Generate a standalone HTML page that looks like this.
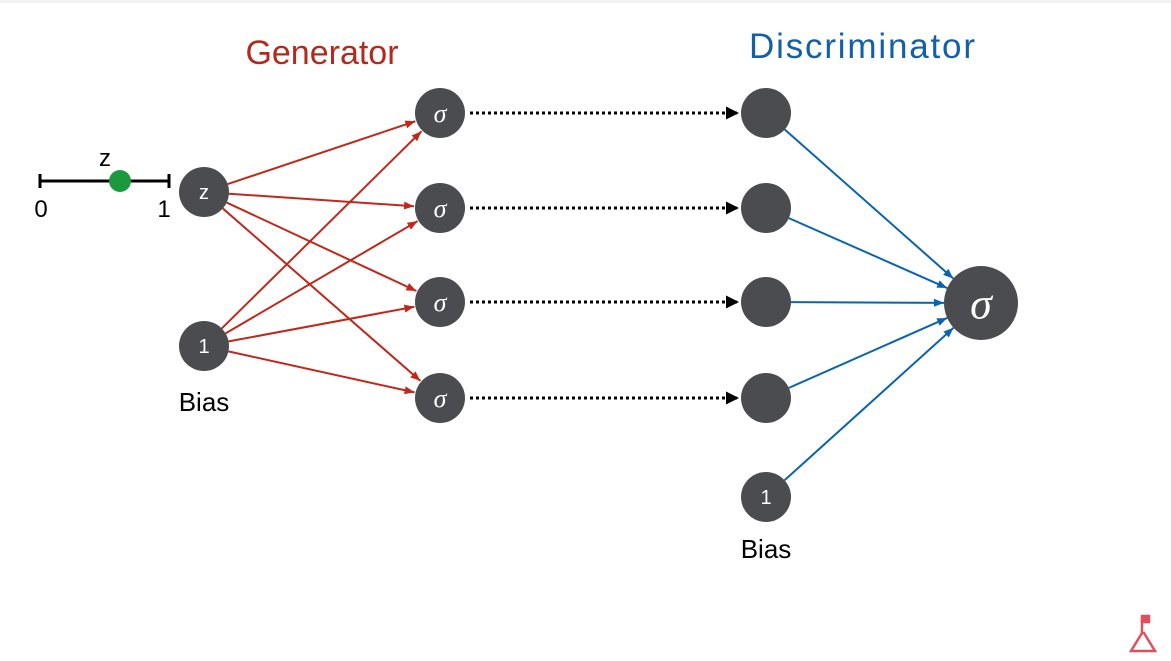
<!DOCTYPE html>
<html><head><meta charset="utf-8"><style>
body{margin:0;background:#fff;}
svg{display:block;font-family:"Liberation Sans",sans-serif;}
</style></head><body>
<svg id="d" width="1171" height="661" viewBox="0 0 1171 661">
<defs>
<marker id="ar" viewBox="0 0 10 10" refX="10" refY="5" markerWidth="11" markerHeight="10" orient="auto" markerUnits="userSpaceOnUse"><path d="M0,1 L10,5 L0,9z" fill="#c0281c"/></marker>
<marker id="ab" viewBox="0 0 10 10" refX="10" refY="5" markerWidth="11" markerHeight="10" orient="auto" markerUnits="userSpaceOnUse"><path d="M0,1 L10,5 L0,9z" fill="#0a63b0"/></marker>
<marker id="ak" viewBox="0 0 10 10" refX="10" refY="5" markerWidth="13" markerHeight="13" orient="auto" markerUnits="userSpaceOnUse"><path d="M0,0 L10,5 L0,10z" fill="#000"/></marker>
</defs>
<rect x="0" y="0" width="1171" height="3" fill="#f2f2f2"/>
<text x="322" y="64" font-size="34" fill="#b22a1e" text-anchor="middle">Generator</text>
<text x="862" y="58" font-size="35" fill="#1160a8" text-anchor="middle" textLength="226">Discriminator</text>
<g>
<line x1="40" y1="181" x2="169" y2="181" stroke="#000" stroke-width="3"/>
<line x1="40" y1="174" x2="40" y2="188" stroke="#000" stroke-width="3"/>
<line x1="169" y1="174" x2="169" y2="188" stroke="#000" stroke-width="3"/>
<circle cx="120" cy="181" r="11" fill="#1a9a3c"/>
<text x="105" y="166" font-size="24" text-anchor="middle">z</text>
<text x="41" y="217" font-size="24" text-anchor="middle">0</text>
<text x="164" y="217" font-size="24" text-anchor="middle">1</text>
</g>
<g id="edges"></g>
<g id="nodes"></g>
<text x="204" y="411" font-size="26" text-anchor="middle">Bias</text>
<text x="766" y="558" font-size="26" text-anchor="middle">Bias</text>
<g fill="none" stroke="#e0505c" stroke-width="2.5">
<path d="M1142,633 L1131,651 L1155,651 L1144,633 L1142,633"/>
<path d="M1142,617 L1142,633"/>
<path d="M1142,616 L1149,616 L1149,622 L1142,622z" fill="#e0505c"/>
</g>
</svg>
<script>
const genInputs=[{id:'z',x:204,y:192,label:'z'},{id:'b1',x:204,y:346,label:'1'}];
const hiddenY=[113,208,302,398];
const discY=[113,208,302,398];
const hiddenX=440, discX=766, outX=981, outY=303;
const NS='http://www.w3.org/2000/svg';
const E=document.getElementById('edges'), N=document.getElementById('nodes');
function line(x1,y1,x2,y2,r1,r2,stroke,mk,dash,w){
  const dx=x2-x1, dy=y2-y1, L=Math.hypot(dx,dy);
  const l=document.createElementNS(NS,'line');
  l.setAttribute('x1',x1+dx/L*r1);l.setAttribute('y1',y1+dy/L*r1);
  l.setAttribute('x2',x2-dx/L*r2);l.setAttribute('y2',y2-dy/L*r2);
  l.setAttribute('stroke',stroke);l.setAttribute('stroke-width',w||2);
  if(dash)l.setAttribute('stroke-dasharray',dash);
  l.setAttribute('marker-end','url(#'+mk+')');
  
  
  E.appendChild(l);
}
function node(x,y,r,txt,fs,italic,name){
  const c=document.createElementNS(NS,'circle');
  c.setAttribute('cx',x);c.setAttribute('cy',y);c.setAttribute('r',r);c.setAttribute('fill','#4b4c4f');
  
  
  N.appendChild(c);
  if(txt){const t=document.createElementNS(NS,'text');
    t.setAttribute('x',x);t.setAttribute('y',y+fs*0.35);t.setAttribute('text-anchor','middle');
    t.setAttribute('font-size',fs);t.setAttribute('fill','#fff');
    if(italic){t.setAttribute('font-style','italic');t.setAttribute('font-family','"Liberation Serif",serif');}
    t.textContent=txt;
    
    
    N.appendChild(t);}
}
genInputs.forEach(g=>hiddenY.forEach(y=>line(g.x,g.y,hiddenX,y,25,26,'#c0281c','ar',null,2)));
hiddenY.forEach((y,i)=>line(hiddenX,y,discX,discY[i],30,27,'#000','ak','3 3',3));
discY.concat([497]).forEach(y=>line(discX,y,outX,outY,25,37,'#0a63b0','ab',null,2));
genInputs.forEach(g=>node(g.x,g.y,25,g.label,20,false,'generator-input-'+g.id));
hiddenY.forEach((y,i)=>node(hiddenX,y,25,'σ',26,true,'hidden-sigma-node-'+(i+1)));
discY.forEach((y,i)=>node(discX,y,25,'',0,false,'discriminator-input-node-'+(i+1)));
node(discX,497,25,'1',20,false,'discriminator-bias-node');
node(outX,outY,37,'σ',44,true,'output-sigma-node');
</script>
</body></html>
